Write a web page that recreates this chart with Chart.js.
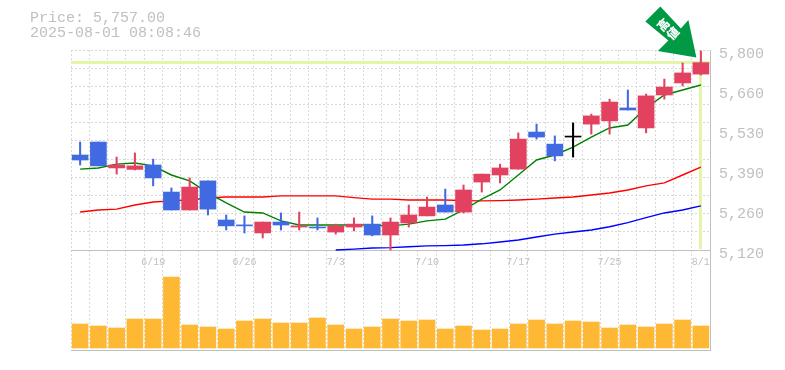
<!DOCTYPE html>
<html><head><meta charset="utf-8">
<style>html,body{margin:0;padding:0;background:#fff}canvas{display:block}</style>
<script src="https://cdn.jsdelivr.net/npm/chart.js@4/dist/chart.umd.min.js"></script>
</head><body><canvas id="c" width="785" height="370"></canvas>
<script>
const dates=["6/13","6/16","6/17","6/18","6/19","6/20","6/23","6/24","6/25","6/26","6/27","6/30","7/1","7/2","7/3","7/4","7/7","7/8","7/9","7/10","7/11","7/14","7/15","7/16","7/17","7/18","7/22","7/23","7/24","7/25","7/28","7/29","7/30","7/31","8/1"];
const shownDates=["6/19","6/26","7/3","7/10","7/17","7/25","8/1"];
const opens=[5443,5487,5399,5394,5409,5317,5256,5355,5222,5205,5178,5215,5198,5198,5181,5198,5208,5171,5212,5236,5273,5249,5351,5375,5395,5521,5480,5504,5548,5559,5603,5535,5647,5688,5718];
const closes=[5426,5406,5409,5406,5365,5256,5334,5259,5202,5202,5215,5205,5202,5195,5202,5208,5171,5215,5239,5266,5249,5324,5378,5399,5497,5504,5440,5504,5576,5623,5596,5644,5674,5722,5757];
const highs=[5487,5487,5436,5450,5429,5331,5365,5355,5239,5236,5215,5246,5249,5229,5208,5229,5236,5229,5273,5300,5327,5341,5378,5412,5518,5548,5508,5552,5582,5633,5664,5650,5701,5756,5797];
const lows=[5409,5406,5378,5392,5338,5256,5256,5239,5188,5178,5161,5188,5188,5188,5174,5185,5168,5120,5198,5236,5249,5246,5317,5348,5395,5497,5423,5436,5514,5514,5596,5518,5633,5678,5715];
const maShort=[5395,5399,5412,5416,5406,5375,5355,5314,5280,5249,5246,5219,5205,5205,5205,5205,5205,5202,5208,5219,5225,5256,5293,5324,5375,5426,5443,5470,5504,5535,5545,5603,5647,5664,5681];
const maMid=[5249,5256,5259,5273,5283,5287,5290,5297,5300,5300,5300,5304,5304,5304,5304,5298,5293,5293,5290,5290,5290,5288,5287,5288,5290,5293,5297,5300,5307,5314,5324,5338,5348,5375,5402];
const maLong=[null,null,null,null,null,null,null,null,null,null,null,null,null,null,5120,5123,5127,5128,5131,5134,5135,5137,5141,5147,5154,5164,5174,5181,5188,5199,5213,5230,5246,5256,5270];
const volumes=[24,22,20,29,29,71,23,21,19,27,29,25,25,30,23,19,21,29,27,28,19,22,18,19,24,28,24,27,26,20,23,21,24,28,22];
const priceTicks=[5120,5256,5392,5528,5664,5800];
const priceTickLabels=["5,120","5,260","5,390","5,530","5,660","5,800"];
const titleLines=["Price: 5,757.00","2025-08-01 08:08:46"];
const lastPrice=5757;
const markerChars=["高","値"];

const UP="#e2415f",DOWN="#4169e1",FLAT="#000000",GRID="#d8d8d8",AXIS="#c0c0c0",HILITE="#e3f5a8";
const candleColors=opens.map((o,i)=>closes[i]>o?UP:closes[i]<o?DOWN:FLAT);
const mono="'Liberation Mono', monospace";

const overlay={id:"overlay",
 beforeDatasetsDraw(chart){
  const {ctx,chartArea:a,scales:{x,y}}=chart;
  const py=Math.floor(y.getPixelForValue(lastPrice))+0.5,px=Math.floor(x.getPixelForValue(dates.length-1))+0.5;
  ctx.save();ctx.strokeStyle=HILITE;ctx.lineWidth=3;ctx.beginPath();
  ctx.moveTo(a.left,py);ctx.lineTo(a.right,py);
  ctx.moveTo(px,py);ctx.lineTo(px,y.getPixelForValue(5120)-1);ctx.stroke();ctx.restore();
 },
 afterDatasetsDraw(chart){
  const {ctx,scales:{x,y}}=chart;
  const tx=x.getPixelForValue(dates.length-1)-4.5,ty=y.getPixelForValue(highs[highs.length-1])+6.5;
  const shape=[[0,0],[-38.5,-6.5],[-28,-17],[-51,-36],[-36,-51],[-15.5,-29],[-8,-37.5]];
  ctx.save();ctx.fillStyle="#009944";ctx.beginPath();
  shape.forEach((s,i)=>i?ctx.lineTo(tx+s[0],ty+s[1]):ctx.moveTo(tx+s[0],ty+s[1]));
  ctx.closePath();ctx.fill();
  ctx.fillStyle="#fff";ctx.font="900 12px 'Noto Sans CJK JP'";ctx.textAlign="center";ctx.textBaseline="middle";
  [[-33,-32.5],[-23.5,-24]].forEach((o,i)=>{ctx.save();ctx.translate(tx+o[0],ty+o[1]);ctx.rotate(-Math.PI/4);ctx.fillText(markerChars[i],0,0);ctx.restore();});
  ctx.restore();
 }};

new Chart(document.getElementById("c"),{
 type:"bar",
 data:{labels:dates,datasets:[
  {type:"line",label:"MA short",data:maShort,borderColor:"#008000",borderWidth:1.4,pointRadius:0,tension:0,yAxisID:"y",order:5},
  {type:"line",label:"MA mid",data:maMid,borderColor:"#ff0000",borderWidth:1.4,pointRadius:0,tension:0,yAxisID:"y",order:5},
  {type:"line",label:"MA long",data:maLong,borderColor:"#0000ff",borderWidth:1.4,pointRadius:0,tension:0,yAxisID:"y",order:5},
  {label:"Wick",data:lows.map((l,i)=>[l,highs[i]]),backgroundColor:candleColors,barThickness:1.4,grouped:false,yAxisID:"y",order:2},
  {label:"Body",data:opens.map((o,i)=>[o,closes[i]]),backgroundColor:candleColors,barThickness:16,grouped:false,minBarLength:1,yAxisID:"y",order:1},
  {label:"Volume",data:volumes,backgroundColor:"#ffb833",barThickness:16,grouped:false,yAxisID:"yVol",order:3}
 ]},
 plugins:[overlay],
 options:{
  responsive:false,animation:false,
  layout:{padding:{left:30,right:0,top:0,bottom:20}},
  plugins:{legend:{display:false},tooltip:{enabled:false},
   title:{display:true,text:titleLines,align:"start",color:AXIS,font:{family:mono,size:15,weight:"normal",lineHeight:1},padding:{top:11,bottom:9}}},
  scales:{
   x:{type:"category",position:{y:5120},offset:true,
    grid:{display:true,offset:true,color:GRID,drawTicks:false},
    border:{display:true,color:AXIS,dash:[2,2]},
    ticks:{autoSkip:false,maxRotation:0,padding:6,color:AXIS,font:{family:mono,size:10},
     callback(v){const l=this.getLabelForValue(v);return shownDates.includes(l)?l:"";}}},
   x2:{type:"category",position:"bottom",labels:dates,offset:true,
    grid:{display:false},ticks:{display:false},border:{display:true,color:AXIS},
    afterFit(s){s.height=0;}},
   y:{type:"linear",position:"right",min:4780,max:5800,
    grid:{display:false},border:{display:true,color:AXIS},
    afterBuildTicks(s){s.ticks=priceTicks.map(v=>({value:v}));},
    afterFit(s){s.width=75;},
    ticks:{autoSkip:false,padding:1,labelOffset:4,color:AXIS,font:{family:mono,size:15},
     callback(v){return priceTickLabels[priceTicks.indexOf(v)];}}},
   yGrid:{type:"linear",position:"left",min:0,max:16.5,reverse:true,
    grid:{color:GRID,drawTicks:false},border:{display:false,dash:[2,2]},
    afterBuildTicks(s){s.ticks=[0,1,2,3,4,5,6,7,8,9,10,11].map(v=>({value:v}));},
    afterFit(s){s.width=41;},
    ticks:{display:false}},
   yVol:{type:"linear",display:false,min:-2,max:298}
  }
 }
});
</script></body></html>
